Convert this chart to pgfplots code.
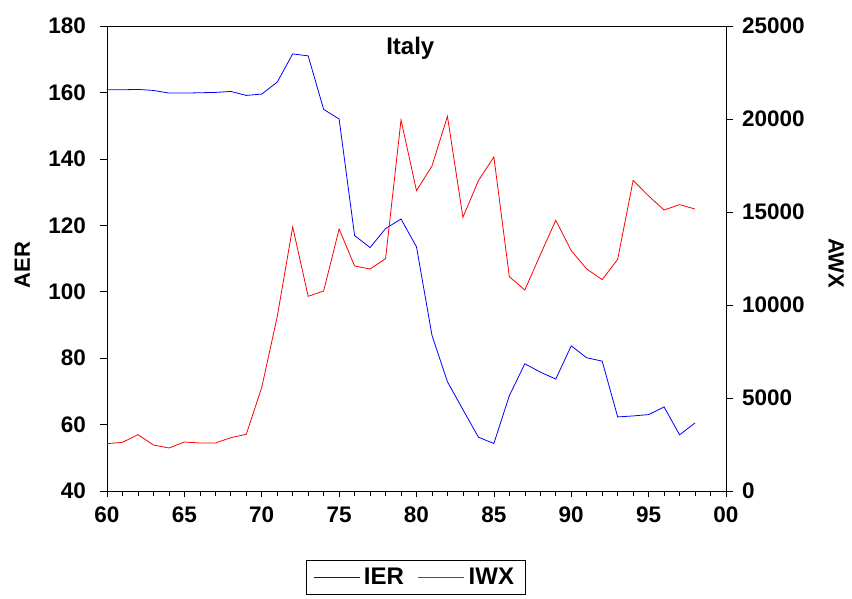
\documentclass[border=0pt]{standalone}
\usepackage{pgfplots}
\pgfplotsset{compat=1.18}
\usepackage{fontspec}
\setmainfont{Liberation Sans}

% Italy: exchange rate index (IER, left) and world export index (IWX, right)
\begin{document}
\begin{tikzpicture}[x=1pt,y=1pt]
\useasboundingbox (-107,-108) rectangle (745,491);
\pgfplotsset{
  common/.style={
    at={(0,0)}, anchor=south west,
    scale only axis, width=619pt, height=465pt,
    xmin=60, xmax=100,
    tick align=outside,
    major tick length=6.5pt, minor tick length=5pt,
    every tick/.style={black, line width=0.6pt},
    axis line style={line width=0.9pt},
    tick label style={font=\fontsize{22.5}{26}\selectfont\bfseries, inner sep=0pt},
    label style={font=\fontsize{22}{26}\selectfont\bfseries},
    /pgf/number format/assume math mode=true,
    /pgf/number format/1000 sep={},
    scaled y ticks=false,
  },
}
\begin{axis}[common,
  ymin=40, ymax=180, ytick={40,60,...,180},
  ytick pos=left,
  yticklabel style={anchor=east, xshift=-14.5pt},
  xtick={60,65,...,100},
  xticklabels={60,65,70,75,80,85,90,95,00},
  xticklabel style={anchor=north, yshift=-9.5pt},
  minor x tick num=4,
  xtick pos=bottom,
  ylabel={AER},
  ylabel style={at={(axis description cs:-0.137,0.486)}, anchor=center},
  legend columns=2,
  legend style={at={(axis description cs:0.4985,-0.185)}, anchor=center,
    font=\fontsize{24}{27}\selectfont\bfseries, draw=black, line width=0.6pt,
    inner xsep=7pt, inner ysep=6pt,
    nodes={inner xsep=4pt},
    /tikz/every even column/.append style={column sep=10pt}},
  legend image code/.code={\draw[#1, line width=0.8pt] (0pt,0pt) -- (46pt,0pt);},
]
\addplot[blue, line width=0.8pt] coordinates {
(60,160.8) (61,160.8) (62,160.9) (63,160.6) (64,159.8) (65,159.8) (66,159.9)
(67,160.0) (68,160.3) (69,159.1) (70,159.5) (71,163.1) (72,171.6) (73,171.0)
(74,154.9) (75,152.0) (76,116.9) (77,113.3) (78,119.0) (79,121.9) (80,113.5)
(81,86.9) (82,72.9) (83,64.5) (84,56.2) (85,54.3) (86,68.7) (87,78.3)
(88,75.8) (89,73.7) (90,83.7) (91,80.1) (92,79.1) (93,62.3) (94,62.6)
(95,63.0) (96,65.3) (97,56.9) (98,60.5)};
\addlegendentry{IER}
\addlegendimage{red, line width=0.8pt}
\addlegendentry{IWX}
\node[font=\fontsize{24}{27}\selectfont\bfseries] at (axis description cs:0.49,0.953) {Italy};
\end{axis}
\begin{axis}[common,
  ymin=0, ymax=25000, ytick={0,5000,...,25000},
  axis y line*=right, axis x line=none,
  yticklabel style={anchor=west, xshift=9.5pt},
  ylabel={AWX},
  ylabel style={at={(axis description cs:1.178,0.49)}, anchor=center, rotate=180},
]
\addplot[red, line width=0.8pt] coordinates {
(60,2543) (61,2618) (62,3027) (63,2473) (64,2312) (65,2634) (66,2581)
(67,2581) (68,2867) (69,3047) (70,5575) (71,9371) (72,14194) (73,10466)
(74,10753) (75,14086) (76,12097) (77,11935) (78,12491) (79,19946) (80,16145)
(81,17473) (82,20145) (83,14713) (84,16685) (85,17957) (86,11523) (87,10806)
(88,12700) (89,14552) (90,12920) (91,11935) (92,11362) (93,12455) (94,16702)
(95,15860) (96,15108) (97,15394) (98,15161)};
\end{axis}
\end{tikzpicture}
\end{document}
